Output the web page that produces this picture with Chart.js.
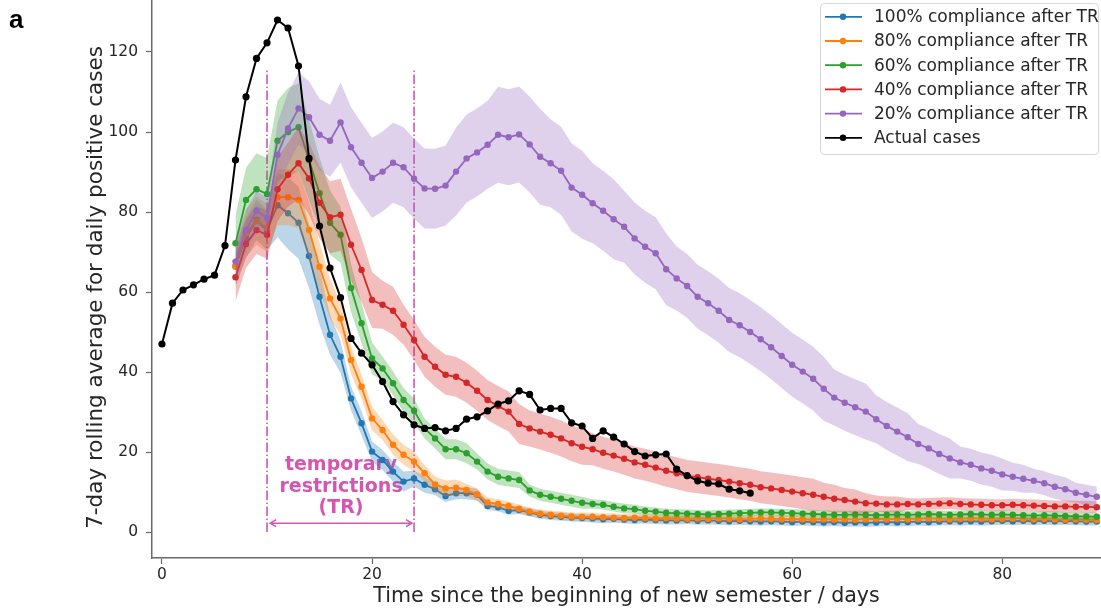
<!DOCTYPE html>
<html>
<head>
<meta charset="utf-8">
<title>7-day rolling average for daily positive cases</title>
<script src="https://cdn.jsdelivr.net/npm/chart.js@4.4.1/dist/chart.umd.min.js"></script>
<style>
  html, body { margin: 0; padding: 0; background: #ffffff; }
  #wrap { position: relative; width: 1101px; height: 615px; }
</style>
</head>
<body>
<div id="wrap"><canvas id="chart" width="1101" height="615"></canvas></div>
<script>
// ---------------------------------------------------------------------------
// Data: 7-day rolling average of daily positive cases
// ---------------------------------------------------------------------------
const ACTUAL_START_DAY = 0;   // observed cases start on day 0
const MODEL_START_DAY = 7;    // simulated scenarios start on day 7

const actualCases = [
  47, 57.2, 60.5, 61.8, 63.2, 64.2, 71.6, 93, 108.8, 118.4,
  122.3, 128, 126, 116.5, 93.4, 76.5, 66, 58.6, 48.4, 44.7,
  41.8, 37.6, 32.6, 29.3, 26.8, 25.9, 26.1, 25.3, 25.9, 28.2,
  28.8, 30.3, 32, 32.8, 35.3, 34.4, 30.5, 30.9, 30.9, 27.3,
  26.5, 23.4, 25.3, 23.7, 22, 20.1, 19, 19.3, 19.5, 15.7,
  14.1, 12.8, 12.2, 12, 10.7, 10.3, 9.7
];

// scenario means, days 7..89
const compliance100 = [
  66.5, 73.5, 78, 75.5, 81.7, 79.7, 77.3, 69, 58.8, 49.3,
  43.8, 33.4, 27.2, 20.1, 18, 15.1, 12.6, 13.4, 11.8, 10.7,
  9, 9.7, 9.7, 9.3, 6.5, 6.2, 5.3, 5.5, 4.9, 4.3,
  4.0, 3.8, 3.6, 3.5, 3.4, 3.2, 3.3, 3.1, 3.0, 3.1,
  3.0, 2.9, 2.9, 3.0, 2.8, 2.9, 2.8, 2.7, 2.8, 2.7,
  2.6, 2.7, 2.6, 2.5, 2.6, 2.5, 2.4, 2.5, 2.3, 2.4,
  2.3, 2.4, 2.5, 2.4, 2.5, 2.6, 2.5, 2.6, 2.7, 2.6,
  2.7, 2.6, 2.7, 2.8, 2.7, 2.8, 2.7, 2.8, 2.7, 2.8,
  2.7, 2.6, 2.6
];
const compliance80 = [
  66.3, 74.7, 77.8, 76, 83.7, 83.7, 83, 75.5, 66.3, 58.4,
  53.4, 43, 36.3, 28.4, 25.5, 21.8, 19.3, 17.6, 14.7, 11.9,
  10.9, 11.1, 10.5, 9.4, 7.4, 7.0, 6.5, 5.8, 5.1, 4.6,
  4.3, 4.1, 3.9, 3.8, 3.8, 3.7, 3.6, 3.5, 3.6, 3.5,
  3.4, 3.5, 3.4, 3.3, 3.4, 3.3, 3.4, 3.3, 3.2, 3.3,
  3.4, 3.3, 3.2, 3.3, 3.2, 3.1, 3.2, 3.1, 3.2, 3.1,
  3.2, 3.3, 3.2, 3.3, 3.2, 3.3, 3.4, 3.3, 3.2, 3.3,
  3.4, 3.3, 3.2, 3.3, 3.4, 3.3, 3.2, 3.3, 3.2, 3.1,
  3.2, 3.1, 3.0
];
const compliance60 = [
  72.2, 83, 85.7, 84.5, 97.8, 100, 101.2, 93, 84.7, 77.3,
  74.3, 61, 52.2, 43.4, 40.9, 37.2, 33, 30.3, 25.9, 23.4,
  20.7, 20.7, 19.7, 17.6, 15.1, 13.8, 13.4, 13, 10.4, 9.3,
  8.8, 8.3, 7.8, 7.3, 7.0, 6.8, 6.3, 5.9, 5.7, 5.3,
  5.1, 4.8, 4.7, 4.6, 4.5, 4.4, 4.5, 4.6, 4.7, 4.8,
  4.9, 4.9, 4.8, 4.7, 4.6, 4.5, 4.4, 4.3, 4.3, 4.4,
  4.3, 4.2, 4.3, 4.4, 4.3, 4.4, 4.5, 4.4, 4.3, 4.4,
  4.5, 4.4, 4.3, 4.4, 4.3, 4.2, 4.1, 4.2, 4.1, 4.0,
  3.9, 3.9, 3.8
];
const compliance40 = [
  63.7, 72, 75.5, 74.3, 85.7, 89.3, 92.2, 88.4, 82.3, 78.7,
  79.3, 71.8, 65.5, 58, 56.8, 55.3, 51.8, 48, 43.8, 41.3,
  39.3, 38.8, 37.3, 35.3, 33, 31.5, 30.1, 27, 25.9, 25.1,
  24.3, 23.4, 22.2, 21.3, 20.7, 19.8, 19.1, 18.3, 17.4, 16.8,
  16.1, 15.3, 14.7, 14, 13.7, 13.3, 13, 12.6, 12.2, 11.8,
  11.2, 10.9, 10.5, 10.1, 9.7, 9.3, 8.8, 8.3, 8.0, 7.6,
  7.2, 7.1, 6.9, 6.9, 7.0, 6.9, 7.0, 7.1, 7.2, 7.0,
  6.9, 6.8, 6.7, 6.7, 6.8, 6.7, 6.6, 6.5, 6.4, 6.4,
  6.3, 6.3, 6.2
];
const compliance20 = [
  67.6, 75.5, 80.3, 78.5, 94.3, 100.9, 105.9, 103.7, 99.3, 97.8,
  102.4, 96.2, 92.3, 88.5, 90.1, 92.3, 91.2, 88.3, 85.9, 85.8,
  86.6, 90.1, 93.4, 94.9, 96.8, 99.3, 98.7, 99.4, 96.9, 93.8,
  92.2, 90.3, 86.1, 84.3, 82.2, 80.3, 78.2, 76.3, 73.4, 71.3,
  69.7, 65.7, 63.4, 61.5, 58.8, 57.2, 55.3, 53, 51.7, 50,
  48.2, 46.2, 44, 41.8, 40.1, 38.3, 35.8, 33.6, 32.3, 31.2,
  30.1, 28.2, 26.5, 25.1, 23.7, 22, 20.9, 19.5, 18.4, 17.4,
  16.8, 15.9, 15.3, 14.4, 13.8, 13.3, 12.8, 12.2, 11.3, 10.7,
  9.8, 9.3, 8.8
];

// half-width of the uncertainty band around each scenario mean, days 7..89
const spread100 = [
  5, 5, 5, 5, 8, 9, 9, 8, 7, 5,
  4, 3, 3, 2.5, 2.5, 2.5, 2.5, 2, 2, 1.5,
  1.5, 1.5, 1.5, 1.5, 1, 1, 1, 1, 1, 1,
  1, 1, 1, 1, 1, 1, 1, 1, 1, 1,
  1, 1, 1, 1, 1, 1, 1, 1, 1, 1,
  1, 1, 1, 1, 1, 1, 1, 1, 1, 1,
  1, 1, 1, 1, 1, 1, 1, 1, 1, 1,
  1, 1, 1, 1, 1, 1, 1, 1, 1, 1,
  1, 1, 1
];
const spread80 = [
  5, 6, 6, 6, 7, 7, 7, 7, 6, 5,
  4, 3.5, 3, 3, 2.5, 2.5, 2.5, 2.5, 2, 2,
  2, 2, 1.5, 1.5, 1.2, 1.2, 1.1, 1.1, 1, 1,
  1, 1, 1, 1, 1, 1, 1, 1, 1, 1,
  1, 1, 1, 1, 1, 1, 1, 1, 1, 1,
  1, 1, 1, 1, 1, 1, 1, 1, 1, 1,
  1, 1, 1, 1, 1, 1, 1, 1, 1, 1,
  1, 1, 1, 1, 1, 1, 1, 1, 1, 1,
  1, 1, 1
];
const spread60 = [
  7, 8, 9, 9, 10, 11, 11, 10, 9, 8,
  7, 6, 5, 4, 3, 3, 3, 3, 2.5, 2.5,
  2.5, 2.5, 2.5, 2, 2, 2, 2, 2, 1.5, 1.5,
  1.5, 1.5, 1.5, 1.5, 1.2, 1.2, 1.2, 1.2, 1.1, 1.1,
  1, 1, 1, 1, 1, 1, 1, 1, 1, 1,
  1, 1, 1, 1, 1, 1, 1, 1, 1, 1,
  1, 1, 1, 1, 1, 1, 1, 1, 1, 1,
  1, 1, 1, 1, 1, 1, 1, 1, 1, 1,
  1, 1, 1
];
const spread40 = [
  6, 6, 6, 6, 8, 8, 9, 9, 9, 9,
  9, 9, 8, 7, 6, 6, 5, 5, 5, 5,
  5, 5, 5, 5, 5, 5, 5, 5, 4.5, 4.5,
  4.5, 4.5, 4.5, 4.5, 4, 4, 4, 4, 4, 4,
  4, 4, 4, 4, 4, 4, 4, 4, 4, 4,
  4, 4, 4, 4, 4, 4, 3.5, 3.5, 3, 3,
  2.5, 2, 2, 2, 1.5, 1.5, 1.5, 1.5, 1.5, 1.5,
  1.5, 1.5, 1.5, 1.5, 1.5, 1.5, 1.5, 1.5, 1.5, 1.5,
  1.5, 1.5, 1.5
];
const spread20 = [
  5, 5, 5, 5, 8, 9, 9, 9, 9, 9,
  10, 10, 10, 10, 10, 10, 10, 10, 10, 10,
  10, 11, 11, 11, 11, 12, 12, 12, 12, 12,
  11, 11, 11, 11, 10, 10, 10, 9, 9, 9,
  9, 9, 8, 8, 8, 8, 8, 8, 8, 8,
  8, 8, 8, 8, 8, 8, 8, 7, 7, 7,
  7, 6, 6, 6, 6, 5, 5, 5, 5, 4,
  4, 4, 4, 4, 3.5, 3.5, 3, 3, 3, 3,
  2.5, 2.5, 2.5
];

const seriesLabels = [
  '100% compliance after TR',
  '80% compliance after TR',
  '60% compliance after TR',
  '40% compliance after TR',
  '20% compliance after TR',
  'Actual cases'
];

const xTicks = [0, 20, 40, 60, 80];
const yTicks = [0, 20, 40, 60, 80, 100, 120];

const xTitle = 'Time since the beginning of new semester / days';
const yTitle = '7-day rolling average for daily positive cases';
const trTextLines = ['temporary', 'restrictions', '(TR)'];

// temporary-restriction window
const TR_START = 10;
const TR_END = 24;

// ---------------------------------------------------------------------------
// Styling
// ---------------------------------------------------------------------------
const FONT = "'DejaVu Sans', 'Liberation Sans', sans-serif";
const TEXT = '#262626';
const AXIS = '#6a6a6a';
const TR_COLOR = '#d655b0';

const scenarios = [
  { label: seriesLabels[0], mean: compliance100, spread: spread100, rgb: [31, 119, 180] },
  { label: seriesLabels[1], mean: compliance80,  spread: spread80,  rgb: [255, 127, 14] },
  { label: seriesLabels[2], mean: compliance60,  spread: spread60,  rgb: [44, 160, 44] },
  { label: seriesLabels[3], mean: compliance40,  spread: spread40,  rgb: [214, 39, 40] },
  { label: seriesLabels[4], mean: compliance20,  spread: spread20,  rgb: [148, 103, 189] }
];

const rgba = (c, a) => `rgba(${c[0]},${c[1]},${c[2]},${a})`;
const toPoints = (values, start) => values.map((v, i) => ({ x: start + i, y: v }));

// ---------------------------------------------------------------------------
// Datasets: each scenario = band (upper filled to lower) + mean line
// ---------------------------------------------------------------------------
const datasets = [];
scenarios.forEach((s, k) => {
  const lineOrder = 9 - 2 * k;      // later scenarios are drawn above earlier ones
  const bandOrder = lineOrder + 1;
  const upper = s.mean.map((m, i) => m + s.spread[i]);
  const lower = s.mean.map((m, i) => m - s.spread[i]);
  datasets.push({
    label: s.label + ' upper',
    data: toPoints(upper, MODEL_START_DAY),
    borderWidth: 0, pointRadius: 0,
    backgroundColor: rgba(s.rgb, 0.3),
    fill: '+1', order: bandOrder
  });
  datasets.push({
    label: s.label + ' lower',
    data: toPoints(lower, MODEL_START_DAY),
    borderWidth: 0, pointRadius: 0,
    fill: false, order: bandOrder
  });
  datasets.push({
    label: s.label,
    data: toPoints(s.mean, MODEL_START_DAY),
    borderColor: rgba(s.rgb, 1),
    backgroundColor: rgba(s.rgb, 1),
    borderWidth: 1.8, pointRadius: 3.2, pointBorderWidth: 0,
    fill: false, order: lineOrder
  });
});
datasets.push({
  label: seriesLabels[5],
  data: toPoints(actualCases, ACTUAL_START_DAY),
  borderColor: '#000000', backgroundColor: '#000000',
  borderWidth: 2, pointRadius: 3.6, pointBorderWidth: 0,
  fill: false, order: 0
});

const legendColors = scenarios.map(s => rgba(s.rgb, 1)).concat(['#000000']);

// ---------------------------------------------------------------------------
// Plugins: restriction-window annotation, legend box, y title and panel letter
// ---------------------------------------------------------------------------
const trAnnotation = {
  id: 'trAnnotation',
  beforeDatasetsDraw(chart) {
    const { ctx, scales: { x, y } } = chart;
    ctx.save();
    ctx.strokeStyle = TR_COLOR;
    ctx.lineWidth = 1.6;
    ctx.setLineDash([9.6, 2.4, 1.6, 2.4]);
    [TR_START, TR_END].forEach(d => {
      const px = x.getPixelForValue(d);
      ctx.beginPath();
      ctx.moveTo(px, y.getPixelForValue(0));
      ctx.lineTo(px, y.getPixelForValue(115.5));
      ctx.stroke();
    });
    ctx.setLineDash([]);

    // double-headed arrow spanning the window
    const ay = y.getPixelForValue(2.2);
    const ax0 = x.getPixelForValue(TR_START + 0.3);
    const ax1 = x.getPixelForValue(TR_END - 0.2);
    ctx.lineWidth = 1.5;
    ctx.beginPath();
    ctx.moveTo(ax0, ay); ctx.lineTo(ax1, ay);
    ctx.moveTo(ax0 + 6, ay - 3.5); ctx.lineTo(ax0, ay); ctx.lineTo(ax0 + 6, ay + 3.5);
    ctx.moveTo(ax1 - 6, ay - 3.5); ctx.lineTo(ax1, ay); ctx.lineTo(ax1 - 6, ay + 3.5);
    ctx.stroke();

    // label
    ctx.fillStyle = TR_COLOR;
    ctx.font = `bold 19px ${FONT}`;
    ctx.textAlign = 'center';
    ctx.textBaseline = 'middle';
    const cx = x.getPixelForValue(17.05);
    const rowValues = [16.75, 11.3, 6.0];
    trTextLines.forEach((t, i) => ctx.fillText(t, cx, y.getPixelForValue(rowValues[i])));
    ctx.restore();
  }
};

const cornerLegend = {
  id: 'cornerLegend',
  afterDraw(chart) {
    const ctx = chart.ctx;
    const boxW = 278, boxH = 151;
    const boxX = chart.chartArea.right - 3 - boxW;
    const boxY = 3;
    ctx.save();
    const r = 4, bx = boxX + 0.5, by = boxY + 0.5;
    ctx.beginPath();
    ctx.moveTo(bx + r, by);
    ctx.lineTo(bx + boxW - r, by);
    ctx.arcTo(bx + boxW, by, bx + boxW, by + r, r);
    ctx.lineTo(bx + boxW, by + boxH - r);
    ctx.arcTo(bx + boxW, by + boxH, bx + boxW - r, by + boxH, r);
    ctx.lineTo(bx + r, by + boxH);
    ctx.arcTo(bx, by + boxH, bx, by + boxH - r, r);
    ctx.lineTo(bx, by + r);
    ctx.arcTo(bx, by, bx + r, by, r);
    ctx.closePath();
    ctx.fillStyle = 'rgba(255,255,255,0.8)';
    ctx.fill();
    ctx.strokeStyle = '#d6d6d6';
    ctx.lineWidth = 1;
    ctx.stroke();

    ctx.font = `17px ${FONT}`;
    ctx.textBaseline = 'middle';
    ctx.textAlign = 'left';
    seriesLabels.forEach((label, i) => {
      const yy = boxY + 13.8 + i * 24.2;
      ctx.strokeStyle = legendColors[i];
      ctx.lineWidth = 1.8;
      ctx.beginPath();
      ctx.moveTo(boxX + 5, yy);
      ctx.lineTo(boxX + 42, yy);
      ctx.stroke();
      ctx.fillStyle = legendColors[i];
      ctx.beginPath();
      ctx.arc(boxX + 23, yy, 3.2, 0, Math.PI * 2);
      ctx.fill();
      ctx.fillStyle = TEXT;
      ctx.fillText(label, boxX + 54, yy + 1);
    });

    // rotated y-axis title, centred a little below the plot-area middle
    ctx.save();
    ctx.translate(chart.chartArea.left - 50, chart.chartArea.top + 287.5);
    ctx.rotate(-Math.PI / 2);
    ctx.font = `21.5px ${FONT}`;
    ctx.fillStyle = TEXT;
    ctx.textAlign = 'center';
    ctx.textBaseline = 'alphabetic';
    ctx.fillText(yTitle, 0, 0);
    ctx.restore();

    // panel letter
    ctx.fillStyle = '#000000';
    ctx.font = "bold 26px 'Liberation Sans', Arial, sans-serif";
    ctx.textBaseline = 'alphabetic';
    ctx.textAlign = 'left';
    ctx.fillText('a', 9, 28);
    ctx.restore();
  }
};

// keep the plot area flush with the canvas edges
const noEdgePadding = s => {
  s.paddingTop = 0; s.paddingBottom = 0; s.paddingLeft = 0; s.paddingRight = 0;
};

// ---------------------------------------------------------------------------
// Chart
// ---------------------------------------------------------------------------
new Chart(document.getElementById('chart'), {
  type: 'line',
  data: { datasets },
  options: {
    responsive: false,
    devicePixelRatio: 1,
    animation: false,
    events: [],
    layout: { padding: 0, autoPadding: false },
    plugins: {
      legend: { display: false },
      tooltip: { enabled: false },
      filler: { propagate: false }
    },
    scales: {
      x: {
        type: 'linear',
        min: -0.95,
        max: 89.4,
        afterBuildTicks: s => { s.ticks = xTicks.map(v => ({ value: v })); },
        afterFit: s => { s.height = 57; noEdgePadding(s); },
        ticks: {
          font: { family: FONT, size: 15.5 },
          color: TEXT, padding: 2, maxRotation: 0, autoSkip: false
        },
        grid: { drawOnChartArea: false, drawTicks: true, tickLength: 6, tickWidth: 1.2, tickColor: AXIS, color: AXIS },
        border: { display: true, color: AXIS, width: 1.5 },
        title: {
          display: true, text: xTitle, color: TEXT,
          font: { family: FONT, size: 20.6 },
          padding: { top: 0, bottom: 5.7 }
        }
      },
      y: {
        type: 'linear',
        min: -6.5,
        max: 133,
        afterBuildTicks: s => { s.ticks = yTicks.map(v => ({ value: v })); },
        afterFit: s => { s.width = 152; noEdgePadding(s); },
        ticks: {
          font: { family: FONT, size: 15.5 },
          color: TEXT, padding: 8, autoSkip: false
        },
        grid: { drawOnChartArea: false, drawTicks: true, tickLength: 6, tickWidth: 1.2, tickColor: AXIS, color: AXIS },
        border: { display: true, color: AXIS, width: 1.5 },
        title: { display: false }
      }
    }
  },
  plugins: [trAnnotation, cornerLegend]
});
</script>
</body>
</html>
